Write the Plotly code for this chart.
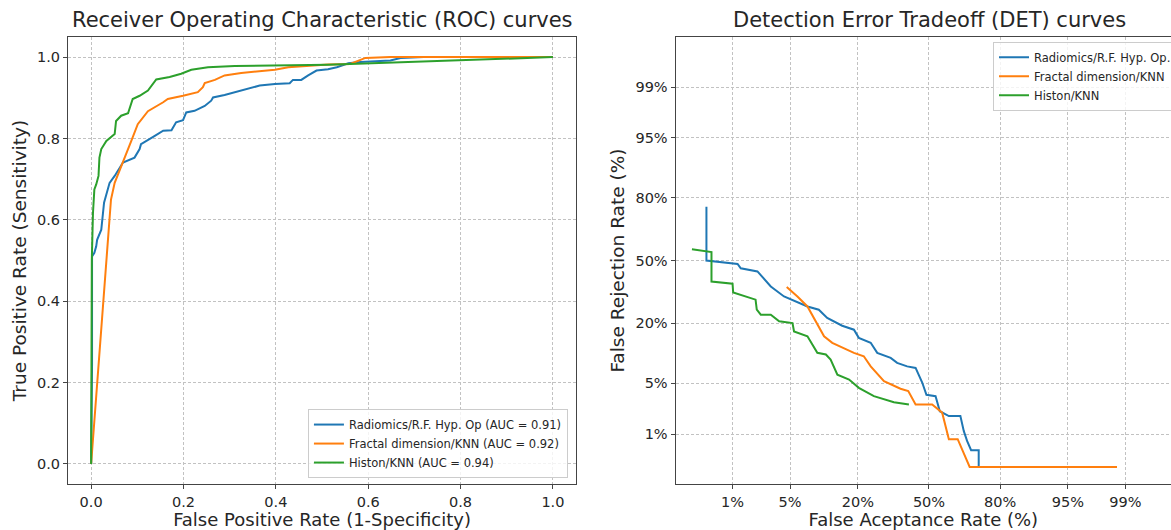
import plotly.graph_objects as go
from statistics import NormalDist

# ---------------- data ----------------
roc_names = ["Radiomics/R.F. Hyp. Op (AUC = 0.91)",
             "Fractal dimension/KNN (AUC = 0.92)",
             "Histon/KNN (AUC = 0.94)"]
det_names = ["Radiomics/R.F. Hyp. Op.", "Fractal dimension/KNN", "Histon/KNN"]
colors = ["#1f77b4", "#ff7f0e", "#2ca02c"]

roc_fpr_radiomics = [0, 0.002, 0.002, 0.007, 0.011, 0.013, 0.022, 0.028, 0.040, 0.051, 0.069, 0.094,
                     0.105, 0.108, 0.137, 0.156, 0.174, 0.184, 0.199, 0.206, 0.224, 0.246, 0.260, 0.264,
                     0.289, 0.311, 0.340, 0.365, 0.398, 0.430, 0.437, 0.455, 0.470, 0.488, 0.513, 0.532,
                     0.557, 0.583, 0.648, 0.670, 0.720, 1.0]
roc_tpr_radiomics = [0, 0.243, 0.510, 0.519, 0.535, 0.551, 0.576, 0.642, 0.691, 0.708, 0.741, 0.753,
                     0.774, 0.786, 0.806, 0.819, 0.820, 0.840, 0.845, 0.864, 0.868, 0.880, 0.893, 0.901,
                     0.907, 0.914, 0.922, 0.930, 0.934, 0.936, 0.944, 0.944, 0.955, 0.967, 0.970, 0.975,
                     0.985, 0.988, 0.992, 0.998, 1.0, 1.0]

roc_fpr_fractal = [0, 0.043, 0.051, 0.069, 0.087, 0.101, 0.123, 0.156, 0.166, 0.199, 0.231, 0.242,
                   0.246, 0.268, 0.289, 0.325, 0.369, 0.398, 0.427, 0.470, 0.513, 0.561, 0.594, 0.648, 1.0]
roc_tpr_fractal = [0, 0.650, 0.691, 0.741, 0.794, 0.835, 0.867, 0.889, 0.897, 0.905, 0.914, 0.926,
                   0.936, 0.944, 0.955, 0.961, 0.965, 0.969, 0.975, 0.978, 0.982, 0.983, 0.998, 1.0, 1.0]

roc_fpr_histon = [0, 0.0, 0.0015, 0.004, 0.007, 0.011, 0.016, 0.018, 0.022, 0.033, 0.051, 0.054,
                  0.065, 0.080, 0.090, 0.105, 0.123, 0.141, 0.170, 0.195, 0.217, 0.253, 0.311, 0.513, 1.0]
roc_tpr_histon = [0, 0.436, 0.502, 0.617, 0.675, 0.687, 0.708, 0.753, 0.774, 0.794, 0.811, 0.843,
                  0.856, 0.862, 0.897, 0.905, 0.918, 0.945, 0.951, 0.959, 0.969, 0.975, 0.978, 0.981, 1.0]

det_far_radiomics = [0.0042, 0.0042, 0.0117, 0.0129, 0.0211, 0.0305, 0.043, 0.075, 0.096, 0.114, 0.152,
                     0.187, 0.203, 0.245, 0.270, 0.325, 0.353, 0.398, 0.437, 0.468, 0.488, 0.531, 0.551,
                     0.593, 0.645, 0.660, 0.674, 0.691, 0.722, 0.722, 0.862]
det_frr_radiomics = [0.765, 0.500, 0.482, 0.459, 0.442, 0.364, 0.315, 0.269, 0.255, 0.221, 0.191,
                     0.177, 0.150, 0.135, 0.108, 0.096, 0.085, 0.078, 0.075, 0.051, 0.036, 0.0345, 0.0217,
                     0.0185, 0.0185, 0.0111, 0.0078, 0.0055, 0.0055, 0.00283, 0.00283]

det_far_fractal = [0.046, 0.0596, 0.075, 0.0866, 0.093, 0.107, 0.126, 0.155, 0.187, 0.220, 0.245,
                   0.297, 0.339, 0.368, 0.403, 0.437, 0.515, 0.562, 0.593, 0.633, 0.685, 0.987]
det_frr_fractal = [0.361, 0.315, 0.269, 0.221, 0.201, 0.155, 0.135, 0.121, 0.108, 0.0997, 0.078,
                   0.053, 0.046, 0.0428, 0.040, 0.0268, 0.0268, 0.0207, 0.0083, 0.0083, 0.00283, 0.00283]

det_far_histon = [0.0025, 0.0050, 0.0050, 0.010, 0.0102, 0.020, 0.0207, 0.0232, 0.0305, 0.038, 0.053,
                  0.055, 0.075, 0.093, 0.111, 0.122, 0.139, 0.172, 0.203, 0.257, 0.339, 0.406]
det_frr_histon = [0.56, 0.545, 0.389, 0.378, 0.334, 0.30, 0.255, 0.234, 0.234, 0.208, 0.201,
                  0.171, 0.155, 0.108, 0.104, 0.092, 0.063, 0.0554, 0.044, 0.0345, 0.0288, 0.0268]

roc_ticks = [0.0, 0.2, 0.4, 0.6, 0.8, 1.0]
det_ticks = [0.01, 0.05, 0.20, 0.50, 0.80, 0.95, 0.99]
det_ticklabels = ["1%", "5%", "20%", "50%", "80%", "95%", "99%"]

# ---------------- figure ----------------
nd = NormalDist()
def probit(values):
    return [nd.inv_cdf(v) for v in values]

FONT = "DejaVu Sans"
TXT = "#262626"
fig = go.Figure()

roc_x = [roc_fpr_radiomics, roc_fpr_fractal, roc_fpr_histon]
roc_y = [roc_tpr_radiomics, roc_tpr_fractal, roc_tpr_histon]
for name, c, x, y in zip(roc_names, colors, roc_x, roc_y):
    fig.add_trace(go.Scatter(x=x, y=y, mode="lines", name=name, legend="legend",
                             line=dict(color=c, width=2), xaxis="x", yaxis="y"))

det_x = [det_far_radiomics, det_far_fractal, det_far_histon]
det_y = [det_frr_radiomics, det_frr_fractal, det_frr_histon]
for name, c, x, y in zip(det_names, colors, det_x, det_y):
    fig.add_trace(go.Scatter(x=probit(x), y=probit(y), mode="lines", name=name, legend="legend2",
                             line=dict(color=c, width=2), xaxis="x2", yaxis="y2"))

ydom = [0.0862, 0.9306]
common = dict(showgrid=True, gridcolor="#c2c2c2", griddash="3px,2px", gridwidth=0.8,
              showline=True, linecolor="#444444", linewidth=1.2, zeroline=False,
              ticks="outside", ticklen=4, tickcolor="#444444",
              tickfont=dict(family=FONT, size=14.5, color=TXT))

fig.update_layout(
    width=1171, height=530,
    margin=dict(l=0, r=0, t=0, b=0, autoexpand=False),
    paper_bgcolor="white", plot_bgcolor="white",
    font=dict(family=FONT, color=TXT),
    xaxis=dict(domain=[0.0581, 0.4919], range=[-0.05, 1.05], anchor="y", mirror=True,
               tickvals=roc_ticks, ticktext=[f"{t:.1f}" for t in roc_ticks],
               title=dict(text="False Positive Rate (1-Specificity)", font=dict(size=18), standoff=4),
               **common),
    yaxis=dict(domain=ydom, range=[-0.05, 1.05], anchor="x", mirror=True,
               tickvals=roc_ticks, ticktext=[f"{t:.1f}" for t in roc_ticks],
               title=dict(text="True Positive Rate (Sensitivity)", font=dict(size=18.5), standoff=5),
               **common),
    xaxis2=dict(domain=[0.577, 1.0], range=[-3, 2.866], anchor="y2", mirror=True,
                tickvals=probit(det_ticks), ticktext=det_ticklabels,
                title=dict(text="False Aceptance Rate (%)", font=dict(size=18), standoff=4),
                **common),
    yaxis2=dict(domain=ydom, range=[-3, 3], anchor="x2", mirror=False,
                tickvals=probit(det_ticks), ticktext=det_ticklabels,
                title=dict(text="False Rejection Rate (%)", font=dict(size=18.5), standoff=5),
                **common),
    legend=dict(x=0.485, y=0.098, xanchor="right", yanchor="bottom",
                bgcolor="rgba(255,255,255,0.8)", bordercolor="#cccccc", borderwidth=1,
                font=dict(family=FONT, size=11.5, color=TXT)),
    legend2=dict(x=0.848, y=0.921, xanchor="left", yanchor="top",
                 bgcolor="rgba(255,255,255,0.8)", bordercolor="#cccccc", borderwidth=1,
                 font=dict(family=FONT, size=11.5, color=TXT)),
    annotations=[
        dict(text="Receiver Operating Characteristic (ROC) curves", x=0.275, y=0.962,
             xref="paper", yref="paper", showarrow=False, xanchor="center", yanchor="middle",
             font=dict(family=FONT, size=21, color=TXT)),
        dict(text="Detection Error Tradeoff (DET) curves", x=929 / 1171, y=0.962,
             xref="paper", yref="paper", showarrow=False, xanchor="center", yanchor="middle",
             font=dict(family=FONT, size=21, color=TXT)),
    ],
)

fig.write_html("out.html")
